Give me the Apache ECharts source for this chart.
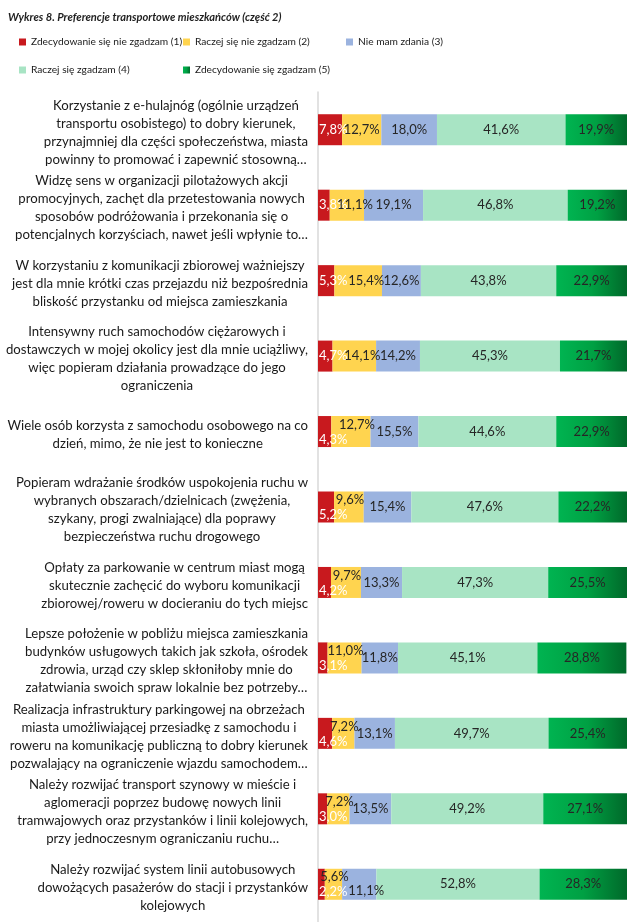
<!DOCTYPE html>
<html>
<head>
<meta charset="utf-8">
<script src="https://cdn.jsdelivr.net/npm/echarts@6/dist/echarts.min.js"></script>
<style>
html,body{margin:0;padding:0;background:#fff;}
#main{width:642px;height:922px;}
</style>
</head>
<body>
<div id="main"></div>
<script>
const titleText = 'Wykres 8. Preferencje transportowe mieszkańców (część 2)';
const seriesNames = [
  'Zdecydowanie się nie zgadzam (1)',
  'Raczej się nie zgadzam (2)',
  'Nie mam zdania (3)',
  'Raczej się zgadzam (4)',
  'Zdecydowanie się zgadzam (5)'
];
const categories = [
  'Korzystanie z e-hulajnóg (ogólnie urządzeń\ntransportu osobistego) to dobry kierunek,\nprzynajmniej dla części społeczeństwa, miasta\npowinny to promować i zapewnić stosowną…',
  'Widzę sens w organizacji pilotażowych akcji\npromocyjnych, zachęt dla przetestowania nowych\nsposobów podróżowania i przekonania się o\npotencjalnych korzyściach, nawet jeśli wpłynie to…',
  'W korzystaniu z komunikacji zbiorowej ważniejszy\njest dla mnie krótki czas przejazdu niż bezpośrednia\nbliskość przystanku od miejsca zamieszkania',
  'Intensywny ruch samochodów ciężarowych i\ndostawczych w mojej okolicy jest dla mnie uciążliwy,\nwięc popieram działania prowadzące do jego\nograniczenia',
  'Wiele osób korzysta z samochodu osobowego na co\ndzień, mimo, że nie jest to konieczne',
  'Popieram wdrażanie środków uspokojenia ruchu w\nwybranych obszarach/dzielnicach (zwężenia,\nszykany, progi zwalniające) dla poprawy\nbezpieczeństwa ruchu drogowego',
  'Opłaty za parkowanie w centrum miast mogą\nskutecznie zachęcić do wyboru komunikacji\nzbiorowej/roweru w docieraniu do tych miejsc',
  'Lepsze położenie w pobliżu miejsca zamieszkania\nbudynków usługowych takich jak szkoła, ośrodek\nzdrowia, urząd czy sklep skłoniłoby mnie do\nzałatwiania swoich spraw lokalnie bez potrzeby…',
  'Realizacja infrastruktury parkingowej na obrzeżach\nmiasta umożliwiającej przesiadkę z samochodu i\nroweru na komunikację publiczną to dobry kierunek\npozwalający na ograniczenie wjazdu samochodem…',
  'Należy rozwijać transport szynowy w mieście i\naglomeracji poprzez budowę nowych linii\ntramwajowych oraz przystanków i linii kolejowych,\nprzy jednoczesnym ograniczaniu ruchu…',
  'Należy rozwijać system linii autobusowych\ndowożących pasażerów do stacji i przystanków\nkolejowych'
];
const s1 = [7.8, 3.8, 5.3, 4.7, 4.3, 5.2, 4.2, 3.1, 4.6, 3.0, 2.2];
const s2 = [12.7, 11.1, 15.4, 14.1, 12.7, 9.6, 9.7, 11.0, 7.2, 7.2, 5.6];
const s3 = [18.0, 19.1, 12.6, 14.2, 15.5, 15.4, 13.3, 11.8, 13.1, 13.5, 11.1];
const s4 = [41.6, 46.8, 43.8, 45.3, 44.6, 47.6, 47.3, 45.1, 49.7, 49.2, 52.8];
const s5 = [19.9, 19.2, 22.9, 21.7, 22.9, 22.2, 25.5, 28.8, 25.4, 27.1, 28.3];

// label placement styles (Excel's collision handling of small labels)
const staggeredRows = [4, 5, 6, 7, 8, 9, 10];
const pushedRows = [1, 2, 3];
const FONT = 'Lato';

function labelStyleFor(si, i) {
  const st = staggeredRows.indexOf(i) >= 0;
  if (si === 0 && st) return {offset: [0, 8]};
  if (si === 1 && st) return {offset: i === 4 ? [6, -7] : [1, -7]};
  if (si === 1 && pushedRows.indexOf(i) >= 0) return {offset: [8, 0]};
  if (si === 2 && i === 10) return {offset: [7, 7]};
  return null;
}

function draw() {
  const colors = [
    '#C8191E',
    '#FFD44F',
    '#9BB3DF',
    '#A8E4C4',
    new echarts.graphic.LinearGradient(0, 0, 1, 0, [
      {offset: 0, color: '#00B451'},
      {offset: 0.5, color: '#00A043'},
      {offset: 1, color: '#00692A'}
    ])
  ];
  const labelColors = ['#ffffff', '#262626', '#262626', '#262626', '#262626'];
  const fmt = v => v.toFixed(1).replace('.', ',') + '%';

  const allSeries = [s1, s2, s3, s4, s5].map((arr, si) => ({
    name: seriesNames[si],
    type: 'bar',
    stack: 'total',
    barWidth: 31,
    data: arr.map((v, i) => {
      const d = {value: v};
      const ls = labelStyleFor(si, i);
      if (ls) d.label = ls;
      return d;
    }),
    itemStyle: {color: colors[si]},
    emphasis: {disabled: true},
    label: {
      show: true,
      position: si === 0 ? 'insideLeft' : 'inside',
      distance: 1,
      formatter: p => fmt(p.value),
      color: labelColors[si],
      fontFamily: FONT,
      fontSize: 13
    }
  }));

  const legendPos = [[19, 37], [183, 37], [346, 37], [19, 65], [183, 65]];
  const legends = seriesNames.map((n, i) => ({
    data: [n],
    left: legendPos[i][0],
    top: legendPos[i][1],
    icon: 'rect',
    itemWidth: 7,
    itemHeight: 7,
    itemGap: 0,
    padding: 0,
    selectedMode: false,
    textStyle: {fontFamily: FONT, fontSize: 10.2, color: '#1a1a1a'}
  }));

  const chart = echarts.init(document.getElementById('main'));
  chart.setOption({
    animation: false,
    backgroundColor: '#ffffff',
    title: {
      text: titleText,
      left: 3,
      top: 7,
      textStyle: {fontFamily: FONT, fontSize: 11.1, fontWeight: 'bold', fontStyle: 'italic', color: '#1f1f1f'}
    },
    legend: legends,
    grid: {left: 318, right: 15, top: 92, height: 841.5, containLabel: false},
    xAxis: {
      type: 'value',
      min: 0,
      max: 100,
      show: false
    },
    yAxis: {
      type: 'category',
      inverse: true,
      data: categories,
      axisLine: {show: true, lineStyle: {color: '#D9D9D9', width: 1.5}},
      axisTick: {show: false},
      axisLabel: {
        interval: 0,
        showMinLabel: true,
        showMaxLabel: true,
        hideOverlap: false,
        margin: 10,
        align: 'right',
        lineHeight: 18,
        padding: [6, 0, 0, 0],
        fontFamily: FONT,
        fontSize: 13.2,
        color: '#1a1a1a',
        formatter: v => v.split('\n').map(l => '{c|' + l + '}').join('\n'),
        rich: {c: {align: 'center', fontFamily: FONT, fontSize: 13.2, lineHeight: 18, color: '#1a1a1a'}}
      }
    },
    series: allSeries
  });
}

if (document.fonts && document.fonts.load) {
  Promise.all([
    document.fonts.load('13px Lato'),
    document.fonts.load('italic bold 14px Lato')
  ]).then(draw, draw);
} else {
  draw();
}
</script>
</body>
</html>
